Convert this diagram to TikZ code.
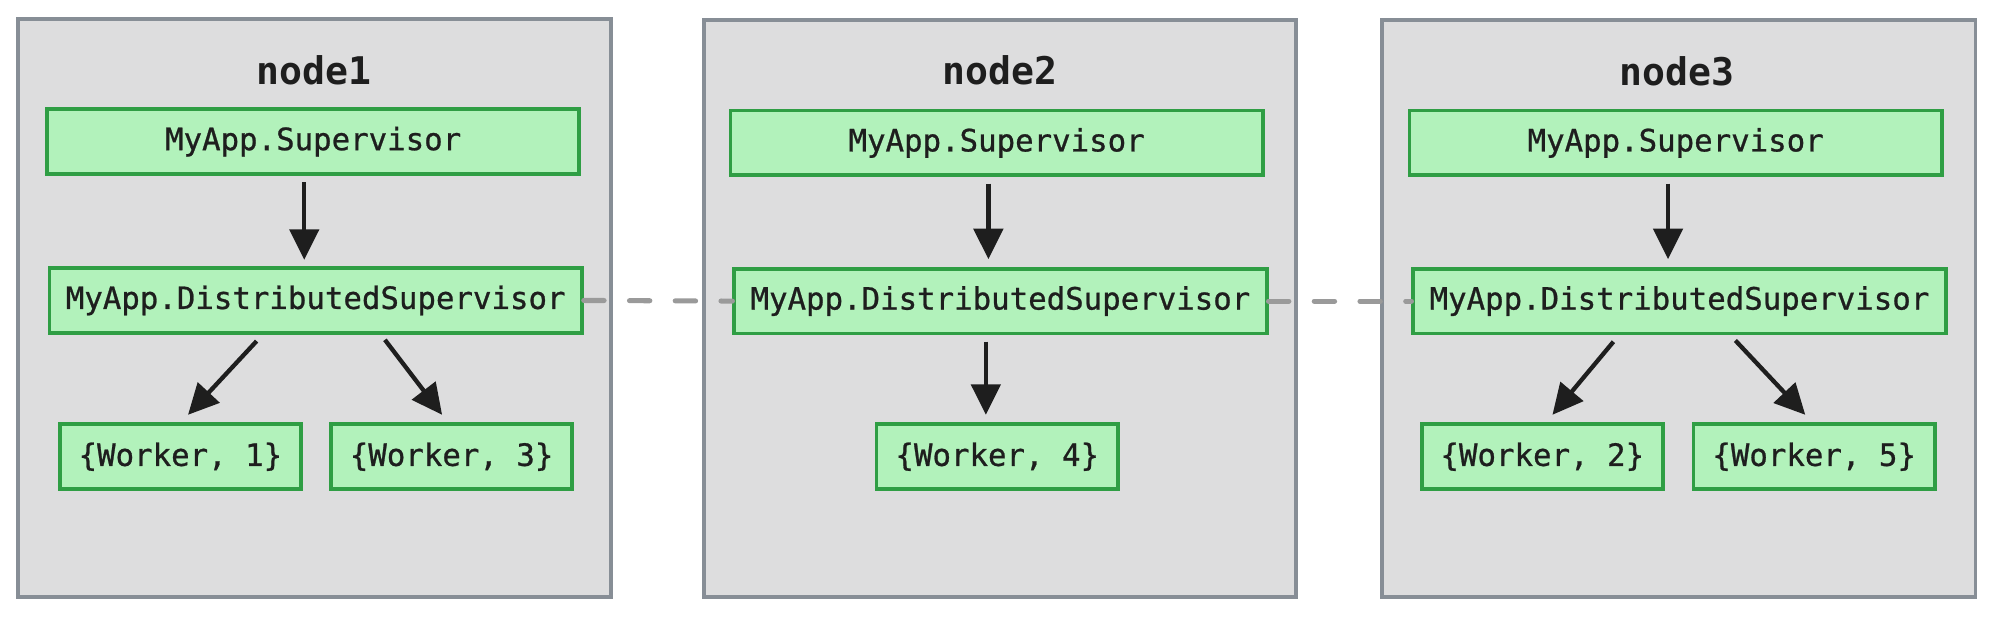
\documentclass[tikz,border=0pt]{standalone}
\usepackage{fontspec}
\setmonofont{DejaVu Sans Mono}
\newfontfamily\boxfont{DejaVu Sans Mono}[FakeBold=0.8]
\usepackage{tikz}
\usetikzlibrary{arrows.meta, calc, positioning}

\definecolor{clusterfill}{HTML}{DDDDDE}
\definecolor{clusterline}{HTML}{878E96}
\definecolor{boxfill}{HTML}{B2F2BB}
\definecolor{boxline}{HTML}{2F9E44}
\definecolor{ink}{HTML}{1E1E1E}
\definecolor{linkgray}{HTML}{9A9A9A}

\begin{document}
\begin{tikzpicture}[x=0.5pt, y=-0.5pt,
    cluster/.style={draw=clusterline, fill=clusterfill, line width=1.5pt},
    title/.style={text=ink, font=\ttfamily\bfseries\fontsize{15}{18}\selectfont},
    proc/.style={draw=boxline, fill=boxfill, line width=1.5pt, text=ink,
        font=\boxfont\fontsize{12.1}{14}\selectfont, inner sep=0pt,
        minimum height=25.5pt},
    sup/.style={proc, minimum width=209.5pt},
    worker/.style={proc, minimum width=95pt},
    arr/.style={draw=ink, line width=1.7pt, -{Triangle[length=12pt, width=11.5pt]}},
    link/.style={draw=linkgray, line width=2pt, line cap=round, dash pattern=on 8pt off 10pt}]
    \useasboundingbox (0,0) rectangle (1568,486.5);

    % Cluster boxes
    \draw[cluster] (14,15) rectangle (481,470);
    \draw[cluster] (554,16) rectangle (1020,470);
    \draw[cluster] (1088,16) rectangle (1555,470);

    % Titles
    \node[title] (t1) at (247,55) {node1};
    \node[title] (t2) at (787,55) {node2};
    \node[title] (t3) at (1320,56) {node3};

    % node1
    \node[sup] (sup1) at (246.5,111.5) {MyApp.Supervisor};
    \node[sup] (ds1) at (248.5,236.5) {MyApp.DistributedSupervisor};
    \node[worker] (w1) at (142,359.5) {\{Worker, 1\}};
    \node[worker] (w3) at (355.5,359.5) {\{Worker, 3\}};

    % node2
    \node[sup] (sup2) at (784.5,112.5) {MyApp.Supervisor};
    \node[sup] (ds2) at (787.5,237) {MyApp.DistributedSupervisor};
    \node[worker] (w4) at (785,359.5) {\{Worker, 4\}};

    % node3
    \node[sup] (sup3) at (1319,112.5) {MyApp.Supervisor};
    \node[sup] (ds3) at (1322,237) {MyApp.DistributedSupervisor};
    \node[worker] (w2) at (1214,359.5) {\{Worker, 2\}};
    \node[worker] (w5) at (1428,359.5) {\{Worker, 5\}};

    % Links between the distributed supervisors
    \draw[link] (ds1.east) -- (ds2.west);
    \draw[link] (ds2.east) -- (ds3.west);

    % Arrows
    \draw[arr] ($(sup1.south)+(-7,5)$) -- ($(ds1.north)+(-9,-5)$);
    \draw[arr] ($(ds1.south)+(-46.5,5)$) -- ($(w1.north)+(6,-6)$);
    \draw[arr] ($(ds1.south)+(54.5,4)$) -- ($(w3.north)+(-7.5,-6)$);

    \draw[arr] ($(sup2.south)+(-6.5,5)$) -- ($(ds2.north)+(-9.5,-6)$);
    \draw[arr] ($(ds2.south)+(-11.5,5)$) -- ($(w4.north)+(-9,-6)$);

    \draw[arr] ($(sup3.south)+(-6,5)$) -- ($(ds3.north)+(-9,-6)$);
    \draw[arr] ($(ds3.south)+(-52,5)$) -- ($(w2.north)+(8,-6)$);
    \draw[arr] ($(ds3.south)+(44,4)$) -- ($(w5.north)+(-7,-6)$);

\end{tikzpicture}
\end{document}
